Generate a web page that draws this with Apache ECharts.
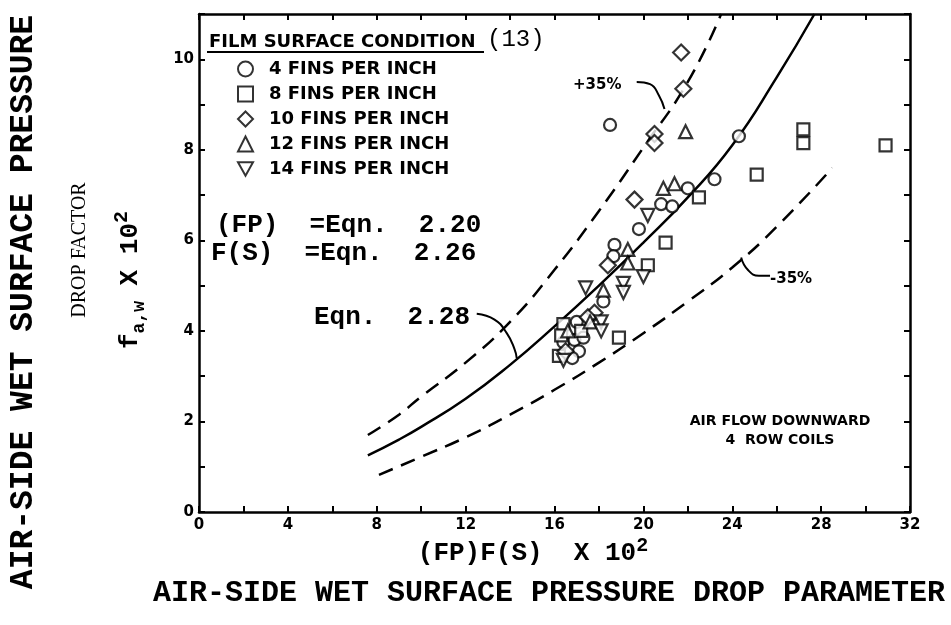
<!DOCTYPE html>
<html>
<head>
<meta charset="utf-8">
<script src="https://cdn.jsdelivr.net/npm/echarts@6/dist/echarts.min.js"></script>
<style>
html, body { margin: 0; padding: 0; background: #fff; }
#main { width: 951px; height: 625px; }
</style>
</head>
<body>
<div id="main"></div>
<script>
// curves: Eqn. 2.28 and the +/-35% bands
var eqn228 = [[7.6, 1.25], [9, 1.6], [10, 1.88], [12, 2.5], [14, 3.25], [16, 4.1], [18, 5.0], [20, 5.95], [22, 6.95], [24, 8.1], [26, 9.6], [27.7, 11.0]];
var plus35 = [[7.6, 1.7], [9, 2.15], [10, 2.55], [12, 3.3], [14, 4.2], [16, 5.35], [18, 6.65], [20, 8.05], [22, 9.5], [23.5, 11.0]];
var minus35 = [[8.1, 0.82], [10, 1.22], [12, 1.65], [14, 2.15], [16, 2.7], [18, 3.3], [20, 3.95], [22, 4.65], [24, 5.4], [26, 6.3], [28.5, 7.6]];

// measured points, film surface condition
var fins4 = [[18.5, 8.55], [24.3, 8.3], [23.2, 7.35], [22.0, 7.15], [20.8, 6.8], [21.3, 6.75], [19.8, 6.25], [18.7, 5.9], [18.65, 5.65], [18.2, 4.65], [17.0, 4.2], [16.4, 3.75], [16.9, 3.8], [17.3, 3.85], [17.1, 3.55], [16.8, 3.4]];
var fins8 = [[27.2, 8.45], [27.2, 8.15], [30.9, 8.1], [25.1, 7.45], [22.5, 6.95], [21.0, 5.95], [20.2, 5.45], [18.9, 3.85], [16.4, 4.15], [16.3, 3.9], [16.2, 3.45], [17.2, 4.0]];
var fins10 = [[21.7, 10.15], [21.8, 9.35], [20.5, 8.35], [20.5, 8.15], [19.6, 6.9], [18.4, 5.45], [17.8, 4.4], [16.5, 3.55], [17.5, 4.3]];
var fins12 = [[21.9, 8.4], [20.9, 7.15], [21.4, 7.25], [19.3, 5.8], [19.3, 5.5], [18.2, 4.9], [17.6, 4.2], [16.6, 4.0]];
var fins14 = [[20.2, 6.55], [20.0, 5.2], [19.1, 5.05], [19.1, 4.85], [17.4, 4.95], [18.1, 4.2], [18.1, 4.0], [16.4, 3.35]];

// leader lines for the labels
var eqnLeader = [[12.5, 4.38], [13.3, 4.25], [13.85, 3.95], [14.2, 3.6], [14.3, 3.4]];
var plusLeader = [[19.7, 9.5], [20.3, 9.45], [20.7, 9.2], [20.95, 8.9]];
var minusLeader = [[24.4, 5.62], [24.7, 5.35], [25.2, 5.22], [25.7, 5.22]];

var legendNames = ['4 FINS PER INCH', '8 FINS PER INCH', '10 FINS PER INCH', '12 FINS PER INCH', '14 FINS PER INCH'];

var black = '#000';
var mono = '"Liberation Mono", "DejaVu Sans Mono", monospace';
var sans = '"DejaVu Sans", sans-serif';
var downTriangle = 'path://M0,0L10,0L5,9Z';

var frameLine = { show: true, onZero: false, lineStyle: { color: black, width: 2.5 } };
var frameTick = { show: true, inside: true, length: 6, lineStyle: { color: black, width: 2 } };

var pointStyle = { color: '#fff', borderColor: black, borderWidth: 2.2 };

function scatter(name, data, symbol, size) {
    return {
        name: name,
        type: 'scatter',
        data: data,
        symbol: symbol,
        symbolSize: size,
        itemStyle: pointStyle,
        z: 5
    };
}

function curve(name, data, dashed) {
    return {
        name: name,
        type: 'line',
        data: data,
        smooth: 0.5,
        showSymbol: false,
        silent: true,
        lineStyle: { color: black, width: 2.5, type: dashed ? [15, 9] : 'solid' },
        z: 3
    };
}

function leader(data) {
    return {
        type: 'line',
        data: data,
        smooth: 0.5,
        showSymbol: false,
        silent: true,
        lineStyle: { color: black, width: 2 },
        z: 3
    };
}

var myChart = echarts.init(document.getElementById('main'));

var option = {
    backgroundColor: '#fff',
    animation: false,
    grid: { left: 199, right: 41, top: 14, bottom: 113, outerBoundsMode: 'none' },
    xAxis: [{
        type: 'value', min: 0, max: 32, interval: 2, position: 'bottom',
        axisLine: frameLine, axisTick: frameTick, splitLine: { show: false },
        axisLabel: {
            color: black, fontFamily: sans, fontWeight: 'bold', fontSize: 15, margin: 6,
            formatter: function (v) { return v % 4 === 0 ? String(v) : ''; }
        }
    }, {
        type: 'value', min: 0, max: 32, interval: 2, position: 'top',
        axisLine: frameLine, axisTick: frameTick, splitLine: { show: false },
        axisLabel: { show: false }
    }],
    yAxis: [{
        type: 'value', min: 0, max: 11, interval: 1, position: 'left',
        axisLine: frameLine, axisTick: frameTick, splitLine: { show: false },
        axisLabel: {
            color: black, fontFamily: sans, fontWeight: 'bold', fontSize: 15, margin: 5,
            formatter: function (v) { return (v % 2 === 0 && v <= 10) ? String(v) : ''; }
        }
    }, {
        type: 'value', min: 0, max: 11, interval: 1, position: 'right',
        axisLine: frameLine, axisTick: frameTick, splitLine: { show: false },
        axisLabel: { show: false }
    }],
    legend: {
        orient: 'vertical', left: 232, top: 55,
        itemWidth: 15, itemHeight: 15, itemGap: 7,
        symbolKeepAspect: true,
        selectedMode: false,
        textStyle: { color: black, fontFamily: sans, fontWeight: 'bold', fontSize: 18, padding: [0, 0, 0, 11] },
        data: legendNames
    },
    graphic: [
        { type: 'text', x: 209, y: 42, style: { text: 'FILM SURFACE CONDITION', fill: black, font: 'bold 18px ' + sans, align: 'left', verticalAlign: 'middle' } },
        { type: 'line', shape: { x1: 207, y1: 52, x2: 484, y2: 52 }, style: { stroke: black, lineWidth: 2 } },
        { type: 'text', x: 487, y: 40, style: { text: '(13)', fill: black, font: '24px ' + mono, align: 'left', verticalAlign: 'middle' } },
        { type: 'text', x: 216, y: 225, style: { text: '(FP)  =Eqn.  2.20', fill: black, font: 'bold 26px ' + mono, align: 'left', verticalAlign: 'middle' } },
        { type: 'text', x: 211, y: 253, style: { text: 'F(S)  =Eqn.  2.26', fill: black, font: 'bold 26px ' + mono, align: 'left', verticalAlign: 'middle' } },
        { type: 'text', x: 314, y: 317, style: { text: 'Eqn.  2.28', fill: black, font: 'bold 26px ' + mono, align: 'left', verticalAlign: 'middle' } },
        { type: 'text', x: 573, y: 85, style: { text: '+35%', fill: black, font: 'bold 15px ' + sans, align: 'left', verticalAlign: 'middle' } },
        { type: 'text', x: 770, y: 279, style: { text: '-35%', fill: black, font: 'bold 15px ' + sans, align: 'left', verticalAlign: 'middle' } },
        { type: 'text', x: 780, y: 421, style: { text: 'AIR FLOW DOWNWARD', fill: black, font: 'bold 14px ' + sans, align: 'center', verticalAlign: 'middle' } },
        { type: 'text', x: 780, y: 440, style: { text: '4  ROW COILS', fill: black, font: 'bold 14px ' + sans, align: 'center', verticalAlign: 'middle' } },
        {
            type: 'text', x: 533, y: 553,
            style: {
                text: '{m|(FP)F(S)  X 10}{s|2}', fill: black, align: 'center', verticalAlign: 'middle',
                rich: {
                    m: { font: 'bold 26px ' + mono, lineHeight: 34, verticalAlign: 'middle' },
                    s: { font: 'bold 20px ' + mono, lineHeight: 20, verticalAlign: 'top' }
                }
            }
        },
        { type: 'text', x: 549, y: 593, style: { text: 'AIR-SIDE WET SURFACE PRESSURE DROP PARAMETER', fill: black, font: 'bold 30px ' + mono, align: 'center', verticalAlign: 'middle' } },
        {
            type: 'text', x: 130, y: 280, rotation: Math.PI / 2,
            style: {
                text: '{m|f}{b|a,w}{m| X 10}{s|2}', fill: black, align: 'center', verticalAlign: 'middle',
                rich: {
                    m: { font: 'bold 26px ' + mono, lineHeight: 36, verticalAlign: 'middle' },
                    b: { font: 'bold 18px ' + mono, lineHeight: 18, verticalAlign: 'bottom' },
                    s: { font: 'bold 20px ' + mono, lineHeight: 20, verticalAlign: 'top' }
                }
            }
        },
        { type: 'text', x: 80, y: 250, rotation: Math.PI / 2, style: { text: 'DROP FACTOR', fill: black, font: '20px "Liberation Serif", serif', align: 'center', verticalAlign: 'middle' } },
        { type: 'text', x: 24, y: 302, rotation: Math.PI / 2, style: { text: 'AIR-SIDE WET SURFACE PRESSURE', fill: black, font: 'bold 33px ' + mono, align: 'center', verticalAlign: 'middle' } }
    ],
    series: [
        curve('Eqn. 2.28', eqn228, false),
        curve('+35%', plus35, true),
        curve('-35%', minus35, true),
        leader(eqnLeader),
        leader(plusLeader),
        leader(minusLeader),
        scatter(legendNames[0], fins4, 'circle', 12),
        scatter(legendNames[1], fins8, 'rect', 12),
        scatter(legendNames[2], fins10, 'diamond', 16),
        scatter(legendNames[3], fins12, 'triangle', 13),
        scatter(legendNames[4], fins14, downTriangle, 13)
    ]
};

myChart.setOption(option);
</script>
</body>
</html>
